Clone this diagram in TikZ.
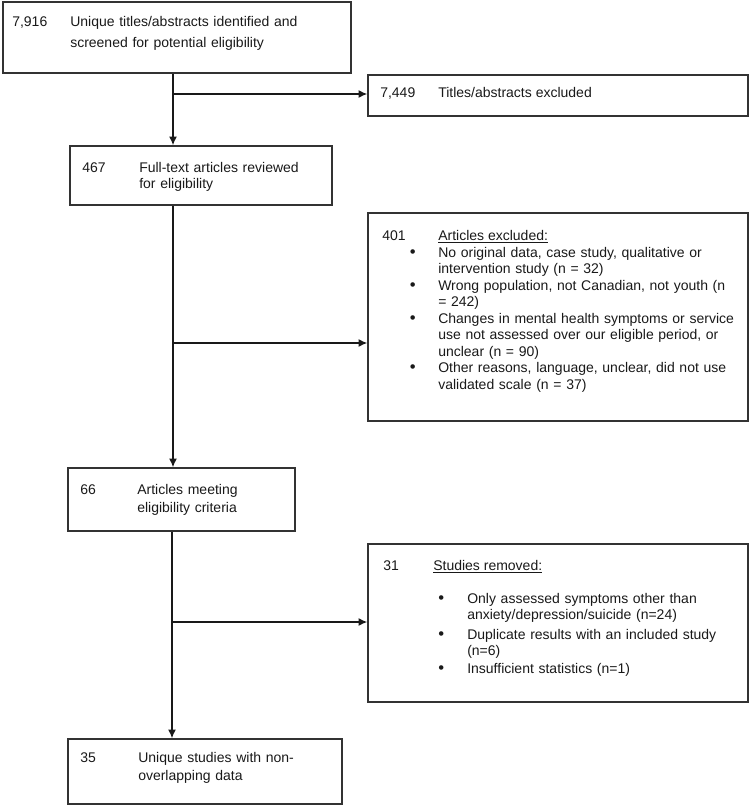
\documentclass[tikz,border=0pt]{standalone}
\usepackage{fontspec}
\setmainfont{Liberation Sans}
\usetikzlibrary{arrows.meta,fit}
\begin{document}
\begin{tikzpicture}[x=0.75pt,y=-0.75pt,
  box/.style={draw=black!80, line width=1.1pt, inner sep=0pt},
  txt/.style={anchor=base west, inner sep=0pt, text=black!90, font=\fontsize{10.5}{12.4}\selectfont},
  dot/.style={txt, font=\fontsize{12.5}{12.4}\selectfont},
  para/.style={txt, text width=240pt, align=left, font=\fontsize{10.5}{#1}\selectfont},
  arr/.style={-{Latex[length=6.5pt,width=6pt]}, line width=1.1pt, draw=black!90}]
\useasboundingbox (0,0) rectangle (750,806);
% boxes
\node[box, fit={(3,2) (351,73)}] (b1) {};
\node[box, fit={(368,75) (748,116)}] (b2) {};
\node[box, fit={(70,146) (332,205)}] (b3) {};
\node[box, fit={(368,213) (748,421)}] (b4) {};
\node[box, fit={(68,468) (295,531)}] (b5) {};
\node[box, fit={(368,544) (748,702)}] (b6) {};
\node[box, fit={(68,739) (342,804)}] (b7) {};
% texts
\node[txt] (n1) at (12,27) {7,916};
\node[para=15.75pt] (t1) at (70,27) {Unique titles/abstracts identified and\\screened for potential eligibility};
\node[txt] (n2) at (380,98) {7,449};
\node[txt] (t2) at (438,98) {Titles/abstracts excluded};
\node[txt] (n3) at (82,172) {467};
\node[para=12.75pt] (t3) at (139,172) {Full-text articles reviewed\\for eligibility};
\node[txt] (n4) at (382,240.5) {401};
\node[txt] (h4) at (438,240.5) {\underline{Articles excluded:}};
\node[dot] (d41) at (409.5,257) {•};
\node[para=12.4pt] (i41) at (438,257) {No original data, case study, qualitative or\\intervention study (n = 32)};
\node[dot] (d42) at (409.5,290) {•};
\node[para=12.4pt] (i42) at (438,290) {Wrong population, not Canadian, not youth (n\\= 242)};
\node[dot] (d43) at (409.5,323) {•};
\node[para=12.4pt] (i43) at (438,323) {Changes in mental health symptoms or service\\use not assessed over our eligible period, or\\unclear (n = 90)};
\node[dot] (d44) at (409.5,372.5) {•};
\node[para=12.4pt] (i44) at (438,372.5) {Other reasons, language, unclear, did not use\\validated scale (n = 37)};
\node[txt] (n5) at (80,494) {66};
\node[para=13.5pt] (t5) at (137,494) {Articles meeting\\eligibility criteria};
\node[txt] (n6) at (383,570) {31};
\node[txt] (h6) at (433,570) {\underline{Studies removed:}};
\node[dot] (d61) at (438,603) {•};
\node[para=12pt] (i61) at (467,603) {Only assessed symptoms other than\\anxiety/depression/suicide (n=24)};
\node[dot] (d62) at (438,639) {•};
\node[para=12pt] (i62) at (467,639) {Duplicate results with an included study\\(n=6)};
\node[dot] (d63) at (438,673) {•};
\node[para=12pt] (i63) at (467,673) {Insufficient statistics (n=1)};
\node[txt] (n7) at (80,762) {35};
\node[para=13.5pt] (t7) at (138,762) {Unique studies with non-\\overlapping data};
% connectors
\coordinate (s1) at (173,94);
\coordinate (s2) at (173,343);
\coordinate (s3) at (172,622);
\draw[arr] (b1.south -| s1) -- (b3.north -| s1);
\draw[arr] (s1) -- (b2.west |- s1);
\draw[arr] (b3.south -| s2) -- (b5.north -| s2);
\draw[arr] (s2) -- (b4.west |- s2);
\draw[arr] (b5.south -| s3) -- (b7.north -| s3);
\draw[arr] (s3) -- (b6.west |- s3);
\end{tikzpicture}
\end{document}
